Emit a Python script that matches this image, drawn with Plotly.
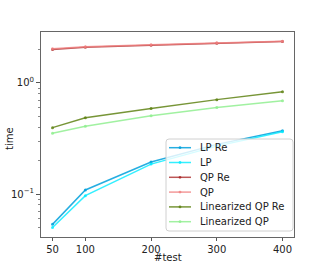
import plotly.graph_objects as go

tests = [50, 100, 200, 300, 400]
lp_re = [0.0533, 0.1087, 0.194, 0.28, 0.372]
lp = [0.050, 0.0966, 0.186, 0.27, 0.363]
qp_re = [2.00, 2.10, 2.19, 2.28, 2.36]
qp = [2.03, 2.12, 2.21, 2.30, 2.38]
lin_qp_re = [0.396, 0.487, 0.59, 0.708, 0.835]
lin_qp = [0.352, 0.407, 0.508, 0.60, 0.693]

series = [
    ("LP Re", lp_re, "rgba(0,160,220,0.85)"),
    ("LP", lp, "rgba(0,235,255,0.8)"),
    ("QP Re", qp_re, "rgba(165,30,30,0.75)"),
    ("QP", qp, "rgba(240,128,128,0.8)"),
    ("Linearized QP Re", lin_qp_re, "rgba(95,130,20,0.85)"),
    ("Linearized QP", lin_qp, "rgba(144,238,144,0.85)"),
]

W, H = 327, 266
OFF = 0  # body margin removed via post_script
PX0, PX1, PY0, PY1 = 41, 294, 32, 237
L, T = PX0 - OFF, PY0 - OFF
R, B = (W + OFF) - PX1, (H + OFF) - PY1
PW, PH = PX1 - PX0, PY1 - PY0

def px(x):
    return (x - PX0) / PW

def py(y):
    return (PY1 - y) / PH

fig = go.Figure()
for name, vals, col in series:
    fig.add_trace(go.Scatter(
        x=tests, y=vals, name=name, mode="lines+markers",
        line=dict(color=col, width=1.5),
        marker=dict(color=col, size=3),
        showlegend=False,
    ))

font = dict(family="DejaVu Sans", size=10, color="#222")

# manual legend (matplotlib-like compact spacing)
shapes = []
annotations = []
bx0, bx1, by0, by1, rr = 166, 293, 139, 231, 3
path = (f"M {px(bx0+rr)},{py(by0)} L {px(bx1-rr)},{py(by0)} "
        f"Q {px(bx1)},{py(by0)} {px(bx1)},{py(by0+rr)} "
        f"L {px(bx1)},{py(by1-rr)} Q {px(bx1)},{py(by1)} {px(bx1-rr)},{py(by1)} "
        f"L {px(bx0+rr)},{py(by1)} Q {px(bx0)},{py(by1)} {px(bx0)},{py(by1-rr)} "
        f"L {px(bx0)},{py(by0+rr)} Q {px(bx0)},{py(by0)} {px(bx0+rr)},{py(by0)} Z")
shapes.append(dict(type="path", path=path, xref="paper", yref="paper",
                   fillcolor="rgba(255,255,255,0.8)", line=dict(color="#d0d0d0", width=1)))
y0, dy = 147.7, 14.8
for i, (name, vals, col) in enumerate(series):
    yc = y0 + i * dy
    shapes.append(dict(type="line", xref="paper", yref="paper",
                       x0=px(169), x1=px(191), y0=py(yc), y1=py(yc),
                       line=dict(color=col, width=1.5)))
    shapes.append(dict(type="circle", xref="paper", yref="paper",
                       x0=px(178.6), x1=px(181.4), y0=py(yc - 1.4), y1=py(yc + 1.4),
                       fillcolor=col, line=dict(width=0)))
    annotations.append(dict(text=name, xref="paper", yref="paper", x=px(197.5), y=py(yc),
                            xanchor="left", yanchor="middle", showarrow=False,
                            font=dict(family="DejaVu Sans", size=10, color="#222")))

# axis titles
annotations.append(dict(text="#test", xref="paper", yref="paper", x=px(168), y=py(257.5),
                        xanchor="center", yanchor="middle", showarrow=False, font=font))
annotations.append(dict(text="time", xref="paper", yref="paper", x=px(9), y=py(139),
                        xanchor="center", yanchor="middle", showarrow=False, font=font,
                        textangle=-90))

fig.update_layout(
    width=W, height=H,
    margin=dict(l=L, r=R, t=T, b=B, autoexpand=False),
    paper_bgcolor="white", plot_bgcolor="white",
    font=font,
    showlegend=False,
    hovermode=False,
    shapes=shapes, annotations=annotations,
)
fig.update_xaxes(
    range=[32.5, 417.5], tickvals=tests, ticktext=[str(t) for t in tests],
    ticks="outside", ticklen=3, tickcolor="#555", showgrid=False, zeroline=False,
    showline=True, linecolor="#666", linewidth=1, mirror=True, automargin=False,
)
minor_vals = [0.05, 0.06, 0.07, 0.08, 0.09, 0.2, 0.3, 0.4, 0.5, 0.6, 0.7, 0.8, 0.9, 2.0]
fig.update_yaxes(
    type="log", range=[-1.387, 0.459],
    tickvals=[0.1, 1], ticktext=["10<sup>\u22121</sup>", "10<sup>0</sup>"],
    ticks="outside", ticklen=4, tickcolor="#555", showgrid=False, zeroline=False,
    showline=True, linecolor="#666", linewidth=1, mirror=True, automargin=False,
    minor=dict(tickvals=minor_vals, ticks="outside", ticklen=2, tickcolor="#888", showgrid=False),
)
fig.write_html("out.html", config={"displayModeBar": False},
               post_script="document.body.style.margin='0';")
